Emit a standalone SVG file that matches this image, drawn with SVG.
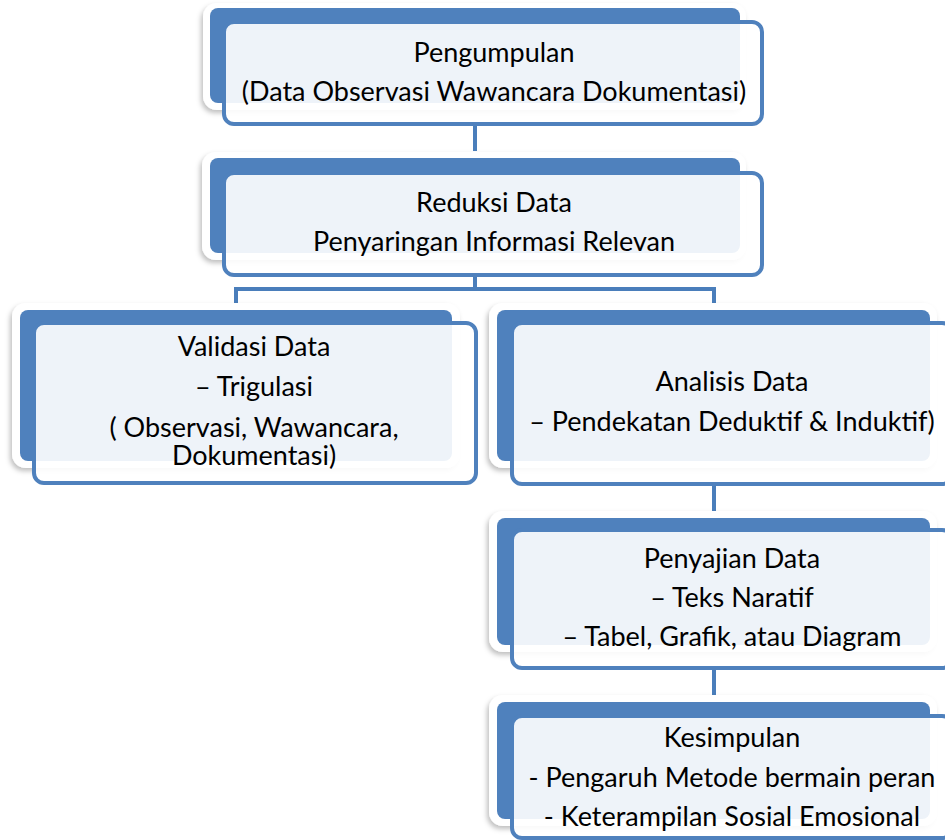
<svg xmlns="http://www.w3.org/2000/svg" width="945" height="840" viewBox="0 0 945 840">
<style>
.card{fill:#ffffff;filter:url(#sh)}
.back{fill:#4F81BD}
.front{fill:#ffffff;fill-opacity:0.9;stroke:#4F81BD;stroke-width:4}
.conn{fill:none;stroke:#4A7EBB;stroke-width:4}
.lbl{font-family:Lato,"Liberation Sans",sans-serif;font-size:27px;fill:#000;text-anchor:middle}
</style>
<defs>
<filter id="sh" x="-10%" y="-20%" width="120%" height="140%">
<feDropShadow dx="-2" dy="3" stdDeviation="2.5" flood-color="#000" flood-opacity="0.25"/>
</filter>
</defs>
<rect width="945" height="840" fill="#ffffff"/>
<g id="connectors">
<path class="conn" d="M475,124 V151"/>
<path class="conn" d="M475,276 V289 M236,289 H714 M236,287 V303 M714,287 V303"/>
<path class="conn" d="M714,484 V511"/>
<path class="conn" d="M714,668 V696"/>
</g>
<g id="n1">
<rect class="card" x="203" y="3" width="543" height="107" rx="14"/>
<rect class="back" x="210" y="8" width="530" height="95" rx="8"/>
<rect class="front" x="224" y="22" width="538" height="102" rx="10"/>
<text class="lbl" x="494" y="62">Pengumpulan</text>
<text class="lbl" x="494" y="101">(Data Observasi Wawancara Dokumentasi)</text>
</g>
<g id="n2">
<rect class="card" x="202" y="152" width="544" height="108" rx="14"/>
<rect class="back" x="210" y="158" width="530" height="95" rx="8"/>
<rect class="front" x="224" y="173" width="538" height="102" rx="10"/>
<text class="lbl" x="494" y="212">Reduksi Data</text>
<text class="lbl" x="494" y="251">Penyaringan Informasi Relevan</text>
</g>
<g id="n3">
<rect class="card" x="12" y="303" width="448" height="165" rx="14"/>
<rect class="back" x="20" y="310" width="432" height="151" rx="8"/>
<rect class="front" x="34" y="323" width="442" height="160" rx="10"/>
<text class="lbl" x="254" y="356">Validasi Data</text>
<text class="lbl" x="254" y="396">– Trigulasi</text>
<text class="lbl" x="254" y="437">( Observasi, Wawancara,</text>
<text class="lbl" x="254" y="465">Dokumentasi)</text>
</g>
<g id="n4">
<rect class="card" x="489" y="303" width="448" height="165" rx="14"/>
<rect class="back" x="497" y="310" width="433" height="151" rx="8"/>
<rect class="front" x="512" y="323" width="440" height="161" rx="10"/>
<text class="lbl" x="732" y="391">Analisis Data</text>
<text class="lbl" x="732" y="431">– Pendekatan Deduktif &amp; Induktif)</text>
</g>
<g id="n5">
<rect class="card" x="489" y="511" width="448" height="141" rx="14"/>
<rect class="back" x="497" y="518" width="433" height="127" rx="8"/>
<rect class="front" x="512" y="530" width="440" height="138" rx="10"/>
<text class="lbl" x="732" y="568">Penyajian Data</text>
<text class="lbl" x="732" y="607">– Teks Naratif</text>
<text class="lbl" x="732" y="646">– Tabel, Grafik, atau Diagram</text>
</g>
<g id="n6">
<rect class="card" x="489" y="695" width="448" height="131" rx="14"/>
<rect class="back" x="497" y="702" width="433" height="117" rx="8"/>
<rect class="front" x="512" y="716" width="440" height="122" rx="10"/>
<text class="lbl" x="732" y="747">Kesimpulan</text>
<text class="lbl" x="732" y="787">- Pengaruh Metode bermain peran</text>
<text class="lbl" x="732" y="826">- Keterampilan Sosial Emosional</text>
</g>
</svg>
